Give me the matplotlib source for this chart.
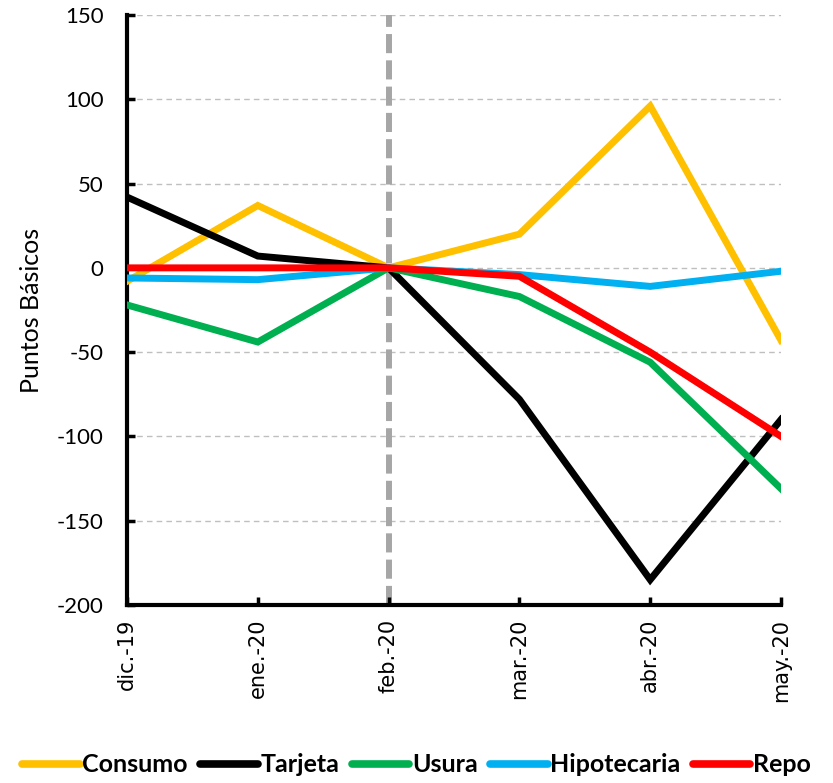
import matplotlib
matplotlib.use("Agg")
import matplotlib.pyplot as plt

months = ["dic.-19", "ene.-20", "feb.-20", "mar.-20", "abr.-20", "may.-20"]
consumo = [-8, 37, 0, 20, 96, -43]
tarjeta = [42, 7, 0, -78, -185, -90]
usura = [-22, -44, 0, -17, -56, -131]
hipotecaria = [-6, -7, 0, -4, -11, -2]
repo = [0, 0, 0, -5, -50, -100]

series = [("Consumo", consumo, "#FFC000"),
          ("Tarjeta", tarjeta, "#000000"),
          ("Usura", usura, "#00B050"),
          ("Hipotecaria", hipotecaria, "#00B0F0"),
          ("Repo", repo, "#FF0000")]

plt.rcParams["font.family"] = ["Lato", "DejaVu Sans"]
plt.rcParams["axes.unicode_minus"] = False

fig = plt.figure(figsize=(8.33, 7.83), dpi=100)
ax = fig.add_axes([127/833, 1-605/783, (781-127)/833, (605-15)/783])

x = list(range(len(months)))
for yv in range(-150, 151, 50):
    ax.axhline(yv, color="#BFBFBF", lw=1, ls=(0, (4, 3)), zorder=0)
ax.axvline(2, color="#A6A6A6", lw=4.3, ls=(0, (3.2, 1.2)), zorder=1)

handles = []
for name, vals, col in series:
    h, = ax.plot(x, vals, color=col, lw=5, label=name, solid_joinstyle="miter", zorder=3)
    handles.append(h)

ax.set_xlim(0, 5)
ax.set_ylim(-200, 150)
ax.set_yticks(range(-200, 151, 50))
ax.set_xticks(x)
ax.set_xticklabels(months, rotation=90, fontsize=15, family=["DejaVu Sans"])
ax.tick_params(axis="y", labelsize=16, direction="in", length=6, width=2.5, pad=17)
ax.tick_params(axis="x", direction="in", length=6, width=2.5, pad=10)
for s in ["top", "right"]:
    ax.spines[s].set_visible(False)
for s in ["left", "bottom"]:
    ax.spines[s].set_linewidth(3)
ax.set_ylabel("Puntos Básicos", fontsize=18, labelpad=10)

fig.legend(handles=handles, loc="center", bbox_to_anchor=(0.5, 1-765/783), ncol=5,
           frameon=False, handlelength=2.3, handletextpad=0.1, columnspacing=0.5,
           prop={"family": ["Lato", "DejaVu Sans"], "weight": "bold", "size": 18})
for h in fig.legends[0].get_lines():
    h.set_linewidth(5.5)
    h.set_solid_capstyle("round")

fig.savefig("out.png", dpi=100)
